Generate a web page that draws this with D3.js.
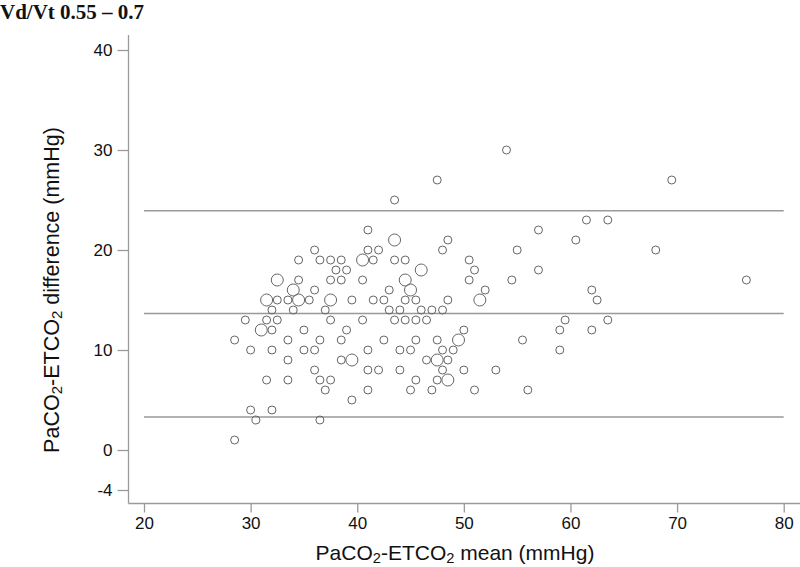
<!DOCTYPE html>
<html><head><meta charset="utf-8">
<script src="https://cdn.jsdelivr.net/npm/d3@7"></script>
<style>body{margin:0;background:#fff}</style>
</head><body>
<svg id="c" width="800" height="567"></svg>
<script>
// Bland-Altman points: mean (x), difference (y), count (1 = single, 2 = enlarged marker)
const meanVals = [
 54,
 47.5, 69.5,
 43.5,
 61.5, 63.5,
 41, 57,
 43.5, 48.5, 60.5,
 36, 41, 42, 48, 55, 68,
 34.5, 36.5, 37.5, 38.5, 40.5, 41.5, 43.5, 44.5, 50.5,
 38, 39, 46, 51, 57,
 32.5, 34.5, 37.5, 38.5, 40.5, 44.5, 50.5, 54.5, 76.5,
 34, 36, 43, 45, 52, 62,
 31.5, 32.5, 33.5, 34.5, 35.5, 37.5, 39.5, 41.5, 42.5, 44.5, 45.5, 48.5, 51.5, 62.5,
 32, 34, 37, 43, 44, 46, 47, 48,
 29.5, 31.5, 32.5, 37.5, 40.5, 43.5, 44.5, 45.5, 46.5, 59.5, 63.5,
 31, 32, 35, 39, 50, 59, 62,
 28.5, 33.5, 36.5, 38.5, 42.5, 45.5, 47.5, 49.5, 55.5,
 30, 32, 35, 36, 41, 44, 45, 48, 49, 59,
 33.5, 38.5, 39.5, 46.5, 47.5, 48.5,
 36, 41, 42, 44, 48, 50, 53,
 31.5, 33.5, 36.5, 37.5, 45.5, 47.5, 48.5,
 37, 41, 45, 47, 51, 56,
 39.5,
 30, 32,
 30.5, 36.5,
 28.5
];
const diffVals = [
 30,
 27, 27,
 25,
 23, 23,
 22, 22,
 21, 21, 21,
 20, 20, 20, 20, 20, 20,
 19, 19, 19, 19, 19, 19, 19, 19, 19,
 18, 18, 18, 18, 18,
 17, 17, 17, 17, 17, 17, 17, 17, 17,
 16, 16, 16, 16, 16, 16,
 15, 15, 15, 15, 15, 15, 15, 15, 15, 15, 15, 15, 15, 15,
 14, 14, 14, 14, 14, 14, 14, 14,
 13, 13, 13, 13, 13, 13, 13, 13, 13, 13, 13,
 12, 12, 12, 12, 12, 12, 12,
 11, 11, 11, 11, 11, 11, 11, 11, 11,
 10, 10, 10, 10, 10, 10, 10, 10, 10, 10,
 9, 9, 9, 9, 9, 9,
 8, 8, 8, 8, 8, 8, 8,
 7, 7, 7, 7, 7, 7, 7,
 6, 6, 6, 6, 6, 6,
 5,
 4, 4,
 3, 3,
 1
];
const countVals = [
 1,
 1, 1,
 1,
 1, 1,
 1, 1,
 2, 1, 1,
 1, 1, 1, 1, 1, 1,
 1, 1, 1, 1, 2, 1, 1, 1, 1,
 1, 1, 2, 1, 1,
 2, 1, 1, 1, 1, 2, 1, 1, 1,
 2, 1, 1, 2, 1, 1,
 2, 1, 1, 2, 1, 2, 1, 1, 1, 1, 1, 1, 2, 1,
 1, 1, 1, 1, 1, 1, 1, 1,
 1, 1, 1, 1, 1, 1, 1, 1, 1, 1, 1,
 2, 1, 1, 1, 1, 1, 1,
 1, 1, 1, 1, 1, 1, 1, 2, 1,
 1, 1, 1, 1, 1, 1, 1, 1, 1, 1,
 1, 1, 2, 1, 2, 1,
 1, 1, 1, 1, 1, 1, 1,
 1, 1, 1, 1, 1, 1, 2,
 1, 1, 1, 1, 1, 1,
 1,
 1, 1,
 1, 1,
 1
];
// limits of agreement: upper, mean bias, lower
const limitVals = [23.93, 13.65, 3.3];
const xTicks = [20, 30, 40, 50, 60, 70, 80];
const yTicks = [40, 30, 20, 10, 0, -4];
const titleText = "Vd/Vt 0.55 \u2013 0.7";

const svg = d3.select("#c");
const x = d3.scaleLinear().domain([20, 80]).range([144, 783.7]);
const y = d3.scaleLinear().domain([0, 40]).range([450, 50]);
const xAxisY = 503.5, yAxisX = 128.5;
const axisCol = "#9a9a9a";
const sans = "Liberation Sans, Arial, sans-serif";

// axes
const xAxis = d3.axisBottom(x).tickValues(xTicks).tickSize(9).tickPadding(4).tickFormat(d => String(d));
const gx = svg.append("g").attr("transform", `translate(0,${xAxisY})`).call(xAxis);
gx.select(".domain").remove();
gx.append("line").attr("x1", yAxisX).attr("x2", 800).attr("y1", 0).attr("y2", 0).attr("stroke", axisCol).attr("stroke-width", 1.3);
gx.selectAll(".tick line").attr("stroke", axisCol).attr("stroke-width", 1.3);
gx.selectAll(".tick text").attr("font-family", sans).attr("font-size", 17).attr("fill", "#111");

const yAxis = d3.axisLeft(y).tickValues(yTicks).tickSize(11).tickPadding(5).tickFormat(d => String(d));
const gy = svg.append("g").attr("transform", `translate(${yAxisX},0)`).call(yAxis);
gy.select(".domain").remove();
gy.append("line").attr("x1", 0).attr("x2", 0).attr("y1", 35).attr("y2", xAxisY).attr("stroke", axisCol).attr("stroke-width", 1.3);
gy.selectAll(".tick line").attr("stroke", axisCol).attr("stroke-width", 1.3);
gy.selectAll(".tick text").attr("font-family", sans).attr("font-size", 17).attr("fill", "#111");

// reference lines
svg.append("g").selectAll("line").data(limitVals).join("line")
  .attr("x1", x(20)).attr("x2", x(80))
  .attr("y1", d => y(d)).attr("y2", d => y(d))
  .attr("stroke", "#999").attr("stroke-width", 1.6);

// points
const pts = meanVals.map((m, i) => ({m, d: diffVals[i], c: countVals[i]}));
svg.append("g").selectAll("circle").data(pts).join("circle")
  .attr("cx", p => x(p.m)).attr("cy", p => y(p.d))
  .attr("r", p => p.c > 1 ? 6 : 4)
  .attr("fill", "none").attr("stroke", "#666").attr("stroke-width", 1);

// title
svg.append("text").attr("x", 0).attr("y", 19)
  .attr("font-family", "Liberation Serif, Times New Roman, serif").attr("font-weight", "bold")
  .attr("font-size", 21).attr("fill", "#111").text(titleText);

// axis titles with subscripts
function subLabel(sel, parts) {
  parts.forEach(p => {
    const t = sel.append("tspan").text(p[0]);
    if (p[1]) t.attr("font-size", "0.7em").attr("baseline-shift", "-22%");
  });
}
const xt = svg.append("text").attr("x", 455).attr("y", 560).attr("text-anchor", "middle")
  .attr("font-family", sans).attr("font-size", 21).attr("fill", "#111");
subLabel(xt, [["PaCO"], ["2", true], ["-ETCO"], ["2", true], [" mean (mmHg)"]]);

const yt = svg.append("text").attr("transform", "translate(59,290) rotate(-90)").attr("text-anchor", "middle")
  .attr("font-family", sans).attr("font-size", 21.5).attr("fill", "#111");
subLabel(yt, [["PaCO"], ["2", true], ["-ETCO"], ["2", true], [" difference (mmHg)"]]);
</script>
</body></html>
